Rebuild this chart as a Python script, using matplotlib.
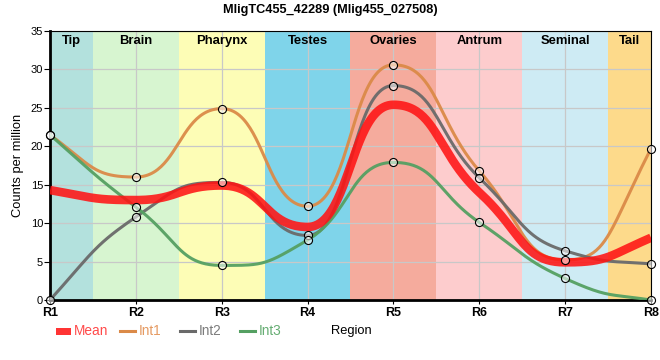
import numpy as np
import matplotlib.pyplot as plt
from matplotlib.patches import Rectangle
from matplotlib.lines import Line2D
from matplotlib.transforms import blended_transform_factory

plt.rcParams['font.family'] = ['Liberation Sans', 'DejaVu Sans']

# donnees
regions = ["R1", "R2", "R3", "R4", "R5", "R6", "R7", "R8"]
zones = ["Tip", "Brain", "Pharynx", "Testes", "Ovaries", "Antrum", "Seminal", "Tail"]
zone_colors = ["#b3e1dd", "#d7f5d0", "#fdfdb6", "#7fd4ea", "#f5ab9d",
               "#fdcccd", "#ceebf4", "#fdda8b"]
mean = [14.3, 13.0, 14.9, 9.5, 25.4, 14.0, 4.9, 8.1]
int1 = [21.5, 16.0, 24.9, 12.2, 30.6, 16.8, 5.2, 19.7]
int2 = [0.0, 10.8, 15.3, 8.4, 27.9, 15.9, 6.4, 4.7]
int3 = [21.5, 12.1, 4.5, 7.8, 17.9, 10.1, 2.8, 0.0]

c_mean = "#ff1414"
c_int1 = "#db8a48"
c_int2 = "#6a6a6a"
c_int3 = "#55a062"


# lissage: pentes monotones + bezier avec points de controle a mi-chemin
def lisse(x, y, k=0.5, n=50):
    x = np.asarray(x, float)
    y = np.asarray(y, float)
    h = np.diff(x)
    s = np.diff(y) / h
    t = np.zeros(len(x))
    for i in range(1, len(x) - 1):
        p = (s[i - 1] * h[i] + s[i] * h[i - 1]) / (h[i - 1] + h[i])
        t[i] = (np.sign(s[i - 1]) + np.sign(s[i])) * min(abs(s[i - 1]), abs(s[i]), 0.5 * abs(p))
    t[0] = (3 * s[0] - t[1]) / 2
    t[-1] = (3 * s[-1] - t[-2]) / 2
    xs, ys = [], []
    u = np.linspace(0, 1, n)
    b0, b1, b2, b3 = (1 - u)**3, 3 * (1 - u)**2 * u, 3 * (1 - u) * u**2, u**3
    for i in range(len(x) - 1):
        d = k * h[i]
        px = [x[i], x[i] + d, x[i + 1] - d, x[i + 1]]
        py = [y[i], y[i] + d * t[i], y[i + 1] - d * t[i + 1], y[i + 1]]
        xs.append(b0 * px[0] + b1 * px[1] + b2 * px[2] + b3 * px[3])
        ys.append(b0 * py[0] + b1 * py[1] + b2 * py[2] + b3 * py[3])
    return np.concatenate(xs), np.concatenate(ys)


fig = plt.figure(figsize=(6.6, 3.6), dpi=100)
ax = fig.add_axes([50 / 660, 60 / 360, 601 / 660, 269 / 360])

x = np.arange(len(regions))
tr = blended_transform_factory(ax.transData, ax.transAxes)
for i, (nom, c) in enumerate(zip(zones, zone_colors)):
    a = max(i - 0.5, 0)
    b = min(i + 0.5, len(regions) - 1)
    ax.axvspan(a, b, color=c, lw=0, zorder=0)
    ax.text((a + b) / 2, 1 - 10 / 269, nom, transform=tr, ha="center", va="center",
            fontsize=9.4, fontweight="bold", zorder=7)

ax.grid(True, color="#c8c8c8", lw=0.9, zorder=1)

series = [(int1, c_int1), (int2, c_int2), (int3, c_int3)]
for vals, c in series:
    xs, ys = lisse(x, vals)
    ax.plot(xs, ys, color=c, lw=2.2, alpha=0.95, zorder=3)
xm, ym = lisse(x, mean)
ax.plot(xm, ym, color=c_mean, lw=6.2, alpha=0.88, solid_capstyle="butt", zorder=4)
for vals, c in series:
    ax.plot(x, vals, ls="none", marker="o", ms=5.8, mfc=(1, 1, 1, 0.55),
            mec="black", mew=0.8, zorder=6, clip_on=False)

ax.set_xlim(0, len(regions) - 1)
ax.set_ylim(0, 35)
ax.set_xticks(x)
ax.set_xticklabels(regions, fontweight="bold", fontsize=9)
ax.set_yticks(np.arange(0, 36, 5))
ax.tick_params(axis="y", labelsize=8, length=4, width=0.8, pad=1)
ax.tick_params(axis="x", length=3, width=0.8, pad=2)
ax.set_ylabel("Counts per million", fontsize=9.3, labelpad=5)

for side in ["left", "bottom"]:
    ax.spines[side].set_linewidth(2)
for side in ["top", "right"]:
    ax.spines[side].set_linewidth(0.8)

fig.text(330 / 660, 1 - 9.5 / 360, "MligTC455_42289 (Mlig455_027508)",
         ha="center", va="center", fontsize=9.2, fontweight="bold")

# legende faite a la main, sur la meme ligne que le titre de l'axe x
ly = 1 - 331 / 360
fig.add_artist(Rectangle((56 / 660, 1 - 334.5 / 360), 15 / 660, 7 / 360,
                         transform=fig.transFigure, color="#ff3434", lw=0))
fig.text(74 / 660, ly, "Mean", color="#ff4a4a", fontsize=9.8, va="center")
noms = ["Int1", "Int2", "Int3"]
couleurs = [c_int1, c_int2, c_int3]
textes = ["#e59a62", "#7c7c7c", "#66ad73"]
for j, (nom, c, ct) in enumerate(zip(noms, couleurs, textes)):
    x0 = 120 + 60 * j
    fig.add_artist(Line2D([x0 / 660, (x0 + 15) / 660], [ly, ly], color=c, lw=2.2,
                          transform=fig.transFigure))
    fig.text((x0 + 19) / 660, ly, nom, color=ct, fontsize=9.8, va="center")
fig.text(351 / 660, ly, "Region", fontsize=9.3, ha="center", va="center")

fig.savefig("out.png", dpi=100)
